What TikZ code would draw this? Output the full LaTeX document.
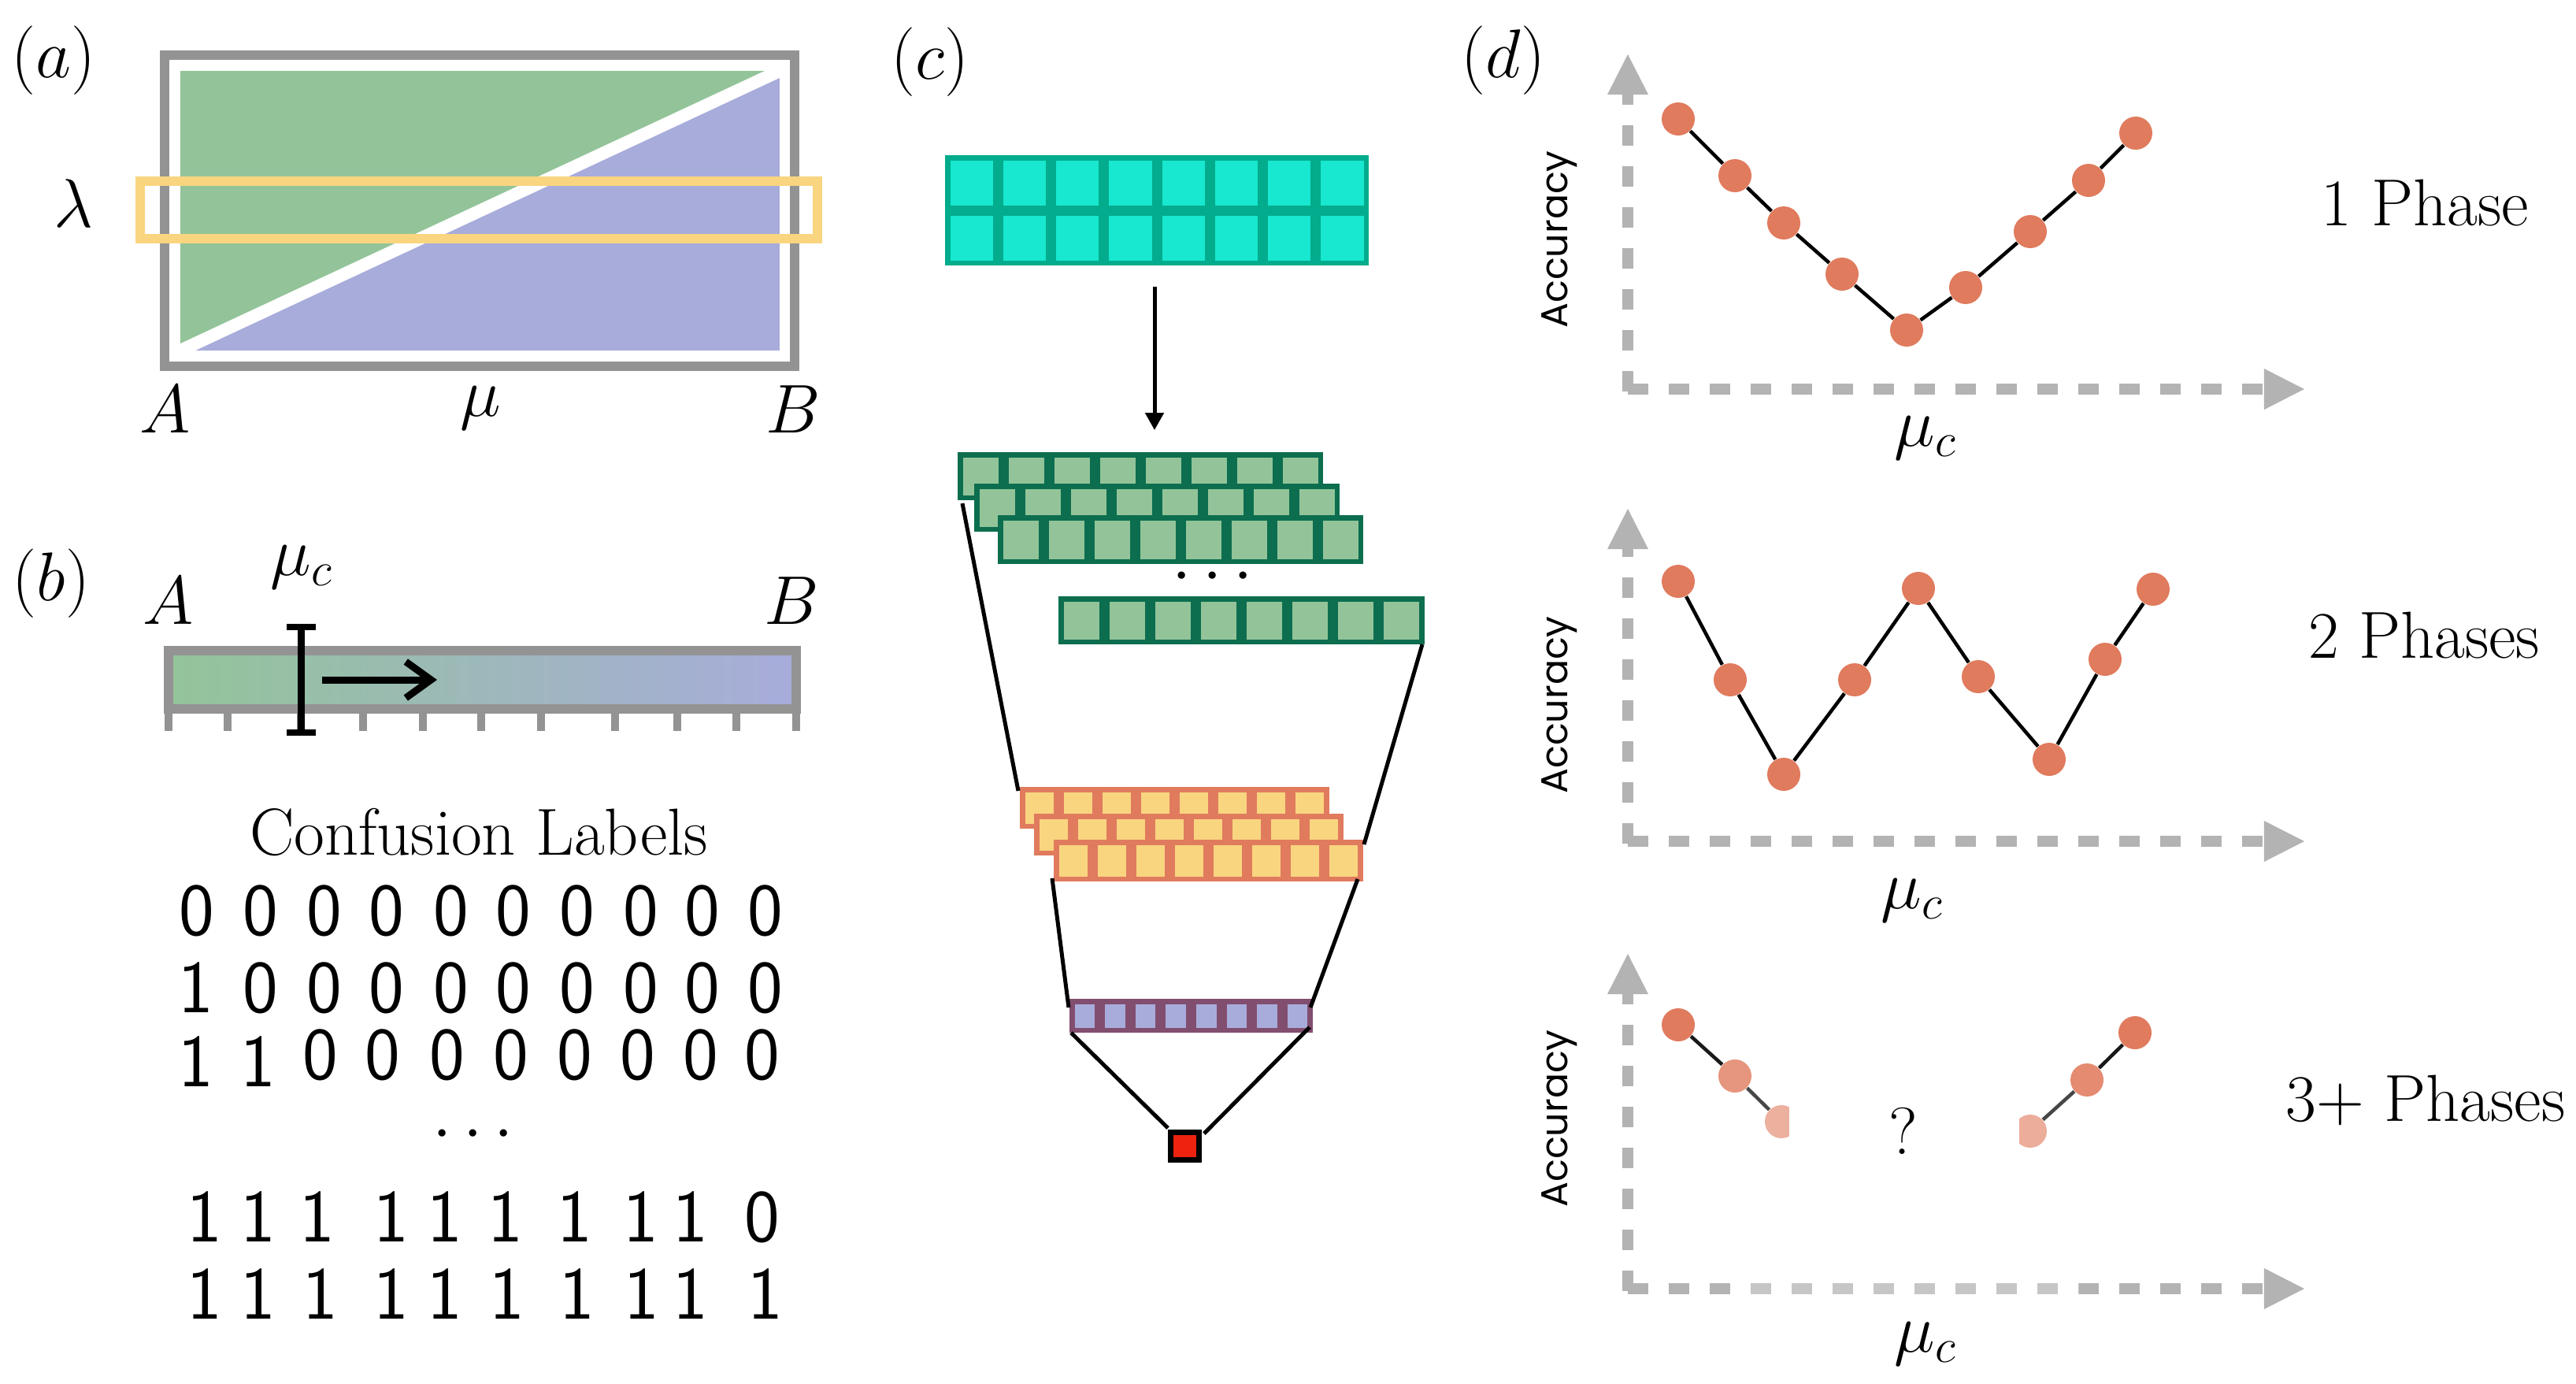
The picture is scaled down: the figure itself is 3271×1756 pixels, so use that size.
\documentclass[tikz,border=0pt]{standalone}
\usepackage{fontspec}
\newfontfamily\accfont{Poppins}
\usetikzlibrary{arrows.meta}
\definecolor{agray}{HTML}{939393}
\definecolor{agreen}{HTML}{93C499}
\definecolor{ablue}{HTML}{A8ACDB}
\definecolor{ayellow}{HTML}{F9D580}
\definecolor{tealB}{HTML}{02AC8C}
\definecolor{tealF}{HTML}{17E8CF}
\definecolor{dgreen}{HTML}{0C6E4F}
\definecolor{salmon}{HTML}{E07B5E}
\definecolor{purpB}{HTML}{824E6F}
\definecolor{ared}{HTML}{EE230F}
\definecolor{axgray}{HTML}{B3B3B3}
\newcommand\nnrow[7]{%
  \foreach \ii in {1,...,#5}{%
    \filldraw[draw=#6, fill=#7, line width=0.065cm] ({#1+(\ii-1)*#3+3.25},{#2+3.25}) rectangle ({#1+\ii*#3-3.25},{#2+#4-3.25});
  }}
\begin{document}
\begin{tikzpicture}[x=0.01cm,y=-0.01cm,
  every node/.style={font=\fontsize{24}{28}\selectfont, inner sep=0pt},
  digit/.style={font=\fontsize{27}{30}\selectfont\sffamily},
  funnel/.style={line width=0.05cm},
  axis/.style={draw=axgray, line width=0.14cm,
    dash pattern=on 0.26cm off 0.26cm, -{Triangle[length=0.51cm,width=0.52cm,fill=axgray,line width=0pt]}},
  pt/.style={circle, fill=salmon, minimum size=0.42cm},
  plotline/.style={line width=0.045cm},
  acc/.style={rotate=90, font=\accfont\fontsize{13.5}{16}\selectfont},
]
\useasboundingbox (0,0) rectangle (3271,1756);

% ---------------- panel (a)
\node (la) at (68,77) {$(a)$};
\fill[ablue] (229,90) rectangle (990,445);
\fill[agreen] (229,90) -- (990,90) -- (229,445) -- cycle;
\begin{scope}
  \clip (229,90) rectangle (990,445);
  \draw[white, line width=0.16cm] (229,445) -- (990,90);
\end{scope}
\draw[agray, line width=0.12cm] (209,70) rectangle (1009,465);
\draw[ayellow, line width=0.12cm] (178,230) rectangle (1038,303);
\node (lam) at (93,258) {$\lambda$};
\node (aA) at (210,520) {$A$};
\node (amu) at (610,518) {$\mu$};
\node (aB) at (1007,520) {$B$};

% ---------------- panel (b)
\node (lb) at (65,741) {$(b)$};
\node (bmuc) at (383,720) {$\mu_c$};
\node (bA) at (214,763) {$A$};
\node (bB) at (1005,763) {$B$};
\shade[left color=agreen, right color=ablue] (214,826) rectangle (1011,900);
\draw[agray, line width=0.12cm] (214,826) rectangle (1011,900);
\foreach \x in {214,289,382,461,537,611,687,781,860,935,1011}
  \draw[agray, line width=0.1cm] (\x,900) -- (\x,928);
\coordinate (ibt) at (382,796);
\coordinate (ibb) at (382,930);
\draw[line width=0.09cm] (ibt) -- (ibb);
\draw[line width=0.08cm] (364,796) -- (401,796);
\draw[line width=0.08cm] (364,930) -- (401,930);
\coordinate (arS) at (409,863);
\coordinate (arE) at (555,863);
\draw[line width=0.09cm, -{Straight Barb[length=0.32cm,width=0.46cm]}] (arS) -- (arE);

\node[anchor=base] (conf) at (608,1085) {Confusion Labels};
\foreach \x [count=\i] in {250,331,412,491,573,652,733,814,892,972}
  \node[digit] (r1-\i) at (\x,1156) {0};
\node[digit] (r2-1) at (249,1254) {1};
\foreach \x [count=\i] in {331,412,491,573,652,733,814,892,972}
  \node[digit] (r2z-\i) at (\x,1254) {0};
\node[digit] (r3-1) at (249,1348) {1};
\node[digit] (r3-2) at (328,1348) {1};
\foreach \x [count=\i] in {407,486,568,649,730,810,890,968}
  \node[digit] (r3z-\i) at (\x,1339) {0};
\node[anchor=base] (bdots) at (601,1460) {$\cdots$};
\foreach \x/\d [count=\i] in {260/1,328/1,403/1,497/1,565/1,642/1,730/1,814/1,877/1,968/0}
  \node[digit] (r4-\i) at (\x,1545) {\d};
\foreach \x [count=\i] in {260,328,407,497,565,644,733,815,877,972}
  \node[digit] (r5-\i) at (\x,1643) {1};

% ---------------- panel (c)
\node (lc) at (1181,79) {$(c)$};
\nnrow{1200}{197}{67.25}{70}{8}{tealB}{tealF}
\nnrow{1200}{267}{67.25}{70}{8}{tealB}{tealF}
\coordinate (c1) at (1466,364);
\coordinate (c2) at (1466,546);
\draw[line width=0.05cm, -{Triangle[length=0.22cm,width=0.23cm]}] (c1) -- (c2);
\nnrow{1216}{574}{58}{61}{8}{dgreen}{agreen}
\nnrow{1237}{614}{58}{61}{8}{dgreen}{agreen}
\nnrow{1267}{654}{58}{62}{8}{dgreen}{agreen}
\node[anchor=base] (cdots) at (1540,752) {$\cdots$};
\nnrow{1344}{757}{58.1}{61}{8}{dgreen}{agreen}
\nnrow{1295}{999}{49.1}{53}{8}{salmon}{ayellow}
\nnrow{1313}{1033}{49.1}{53}{8}{salmon}{ayellow}
\nnrow{1338}{1066}{49.1}{53}{8}{salmon}{ayellow}
\nnrow{1358}{1268}{38.6}{43}{8}{purpB}{ablue}
\filldraw[fill=ared, draw=black, line width=0.07cm] (1486.5,1437.5) rectangle (1522.5,1472.5);
\coordinate (fa1) at (1222,639);  \coordinate (fa2) at (1293,1004);
\coordinate (fb1) at (1806,818);  \coordinate (fb2) at (1732,1072);
\coordinate (fc1) at (1336,1115); \coordinate (fc2) at (1357,1279);
\coordinate (fd1) at (1724,1116); \coordinate (fd2) at (1664,1279);
\coordinate (fe1) at (1360,1311); \coordinate (fe2) at (1483,1432);
\coordinate (ff1) at (1663,1304); \coordinate (ff2) at (1529,1439);
\draw[funnel] (fa1) -- (fa2);
\draw[funnel] (fb1) -- (fb2);
\draw[funnel] (fc1) -- (fc2);
\draw[funnel] (fd1) -- (fd2);
\draw[funnel] (fe1) -- (fe2);
\draw[funnel] (ff1) -- (ff2);

% ---------------- panel (d)
\node (ld) at (1909,77) {$(d)$};
% plot 1
\coordinate (o1y) at (2067,497); \coordinate (t1y) at (2067,69);
\coordinate (o1x) at (2067,494); \coordinate (t1x) at (2926,494);
\draw[axis] (o1y) -- (t1y);
\draw[axis] (o1x) -- (t1x);
\foreach \p [count=\i] in {(2131,151),(2203,223),(2265,283),(2339,348),(2421,419),(2496,365),(2578,294),(2652,229),(2712,169)}
  \node[pt] (a\i) at \p {};
\draw[plotline] (a1)--(a2)--(a3)--(a4)--(a5)--(a6)--(a7)--(a8)--(a9);
\node[acc] (acc1) at (1980,304) {Accuracy};
\node (mu1) at (2445,556) {$\mu_c$};
\node[anchor=base] (ph1) at (3079,286) {1 Phase};
% plot 2
\coordinate (o2y) at (2067,1071); \coordinate (t2y) at (2067,646);
\coordinate (o2x) at (2067,1068); \coordinate (t2x) at (2926,1068);
\draw[axis] (o2y) -- (t2y);
\draw[axis] (o2x) -- (t2x);
\foreach \p [count=\i] in {(2131,738),(2197,863),(2265,983),(2355,863),(2436,747),(2512,859),(2602,964),(2673,837),(2734,748)}
  \node[pt] (b\i) at \p {};
\draw[plotline] (b1)--(b2)--(b3)--(b4)--(b5)--(b6)--(b7)--(b8)--(b9);
\node[acc] (acc2) at (1980,895) {Accuracy};
\node (mu2) at (2428,1143) {$\mu_c$};
\node[anchor=base] (ph2) at (3078,835) {2 Phases};
% plot 3
\coordinate (o3y) at (2067,1639); \coordinate (t3y) at (2067,1211);
\coordinate (o3x) at (2067,1636); \coordinate (t3x) at (2926,1636);
\draw[axis] (o3y) -- (t3y);
\draw[axis] (o3x) -- (t3x);
\node[pt] (c1p) at (2131,1301) {};
\node[pt, fill=salmon!80!white] (c2p) at (2203,1366) {};
\node[pt, fill=salmon!60!white] (c3p) at (2262,1424) {};
\node[pt, fill=salmon!62!white] (c4p) at (2578,1436) {};
\node[pt, fill=salmon!88!white] (c5p) at (2650,1371) {};
\node[pt] (c6p) at (2711,1311) {};
\draw[plotline, black!90] (c1p) -- (c2p);
\draw[plotline, black!72] (c2p) -- (c3p);
\draw[plotline, black!72] (c4p) -- (c5p);
\draw[plotline, black!90] (c5p) -- (c6p);
\fill[white] (2272,1380) rectangle (2564,1605);
\fill[white, opacity=0.25] (2200,1620) rectangle (2640,1652);
\node (qm) at (2417,1436) {?};
\node[acc] (acc3) at (1980,1420) {Accuracy};
\node (mu3) at (2445,1706) {$\mu_c$};
\node[anchor=base] (ph3) at (3080,1423) {3+ Phases};
\end{tikzpicture}
\end{document}
